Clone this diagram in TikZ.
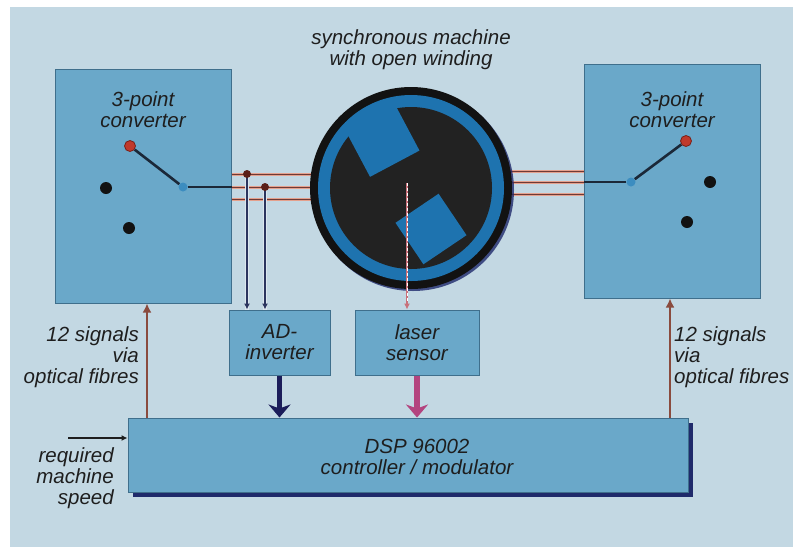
\documentclass[tikz,border=0pt]{standalone}
\usepackage{fontspec}
\setmainfont{Liberation Sans}
\usetikzlibrary{positioning}
\usetikzlibrary{calc}
\usetikzlibrary{arrows.meta}
\usetikzlibrary{shadows}
\pgfdeclarelayer{wirebg}
\pgfsetlayers{wirebg,main}

\definecolor{bgblue}{HTML}{C3D8E3}
\definecolor{boxfill}{HTML}{6AA8C9}
\definecolor{boxline}{HTML}{3F6F8C}
\definecolor{textgray}{HTML}{1E1E1E}
\definecolor{rotorblue}{HTML}{1E73AF}
\definecolor{machineblack}{HTML}{121212}
\definecolor{machinedark}{HTML}{222222}
\definecolor{shadownavy}{HTML}{1F2A6B}
\definecolor{wirebrown}{HTML}{6E3A36}
\definecolor{wireglow}{HTML}{E4A08C}
\definecolor{navyline}{HTML}{2B355E}
\definecolor{senseglow}{HTML}{DCE6EE}
\definecolor{navyarrow}{HTML}{1B1D5A}
\definecolor{pinkarrow}{HTML}{B3447F}
\definecolor{beampink}{HTML}{C8707A}
\definecolor{fibrebrown}{HTML}{8A4B3E}
\definecolor{switchred}{HTML}{C0392B}
\definecolor{switchdark}{HTML}{7A2018}
\definecolor{pivotblue}{HTML}{3C8DC0}
\definecolor{armdark}{HTML}{1B2838}
\definecolor{jointred}{HTML}{5A1F18}

\tikzset{
	box/.style={draw=boxline, line width=1pt, fill=boxfill, align=center, inner sep=0pt, text=textgray},
	txt/.style={inner sep=0pt, text=textgray},
	contact/.style={circle, fill=machineblack, inner sep=0pt, minimum size=12pt},
	switchtip/.style={circle, fill=switchred, draw=switchdark, line width=.8pt, inner sep=0pt, minimum size=11pt},
	pivot/.style={circle, fill=pivotblue, inner sep=0pt, minimum size=9pt},
	arm/.style={draw=armdark, line width=2.6pt},
	wire/.style={draw=wirebrown, line width=1pt, preaction={draw=wireglow, line width=3pt}},
	sense/.style={draw=navyline, line width=1.6pt, preaction={draw=senseglow, line width=4pt, -}, -{Latex[length=6pt,width=6pt]}},
	beam/.style={draw=beampink, line width=1.6pt, -{Latex[length=6pt,width=6pt]}, postaction={draw=white, line width=1pt, dash pattern=on 3pt off 2pt, shorten >=7pt, -}},
	fibre/.style={draw=fibrebrown, line width=2.6pt, -{Latex[length=9pt,width=9pt]}},
	bigarrow/.style={line width=5.5pt, -{Stealth[length=13pt,width=22pt,inset=4pt]}},
}

\begin{document}
\begin{tikzpicture}[x=1pt, y=-1pt, font=\itshape\fontsize{20.5}{21}\selectfont]
	\useasboundingbox (0,0) rectangle (797,547);

	% Converters
	\node [box, minimum width=176pt, minimum height=234pt] at (143,186) (convL) {};
	\node [box, minimum width=176pt, minimum height=234pt] at (672,181) (convR) {};
	\node [txt, align=center, below=23pt of convL.north] (convLtext) {3-point\\converter};
	\node [txt, align=center, below=28pt of convR.north] (convRtext) {3-point\\converter};

	% Switches
	\node [contact] at (106,188) (dotL1) {};
	\node [contact] at (129,228) (dotL2) {};
	\node [switchtip] at (130,146) (armL) {};
	\node [pivot] at (183,187) (pivL) {};
	\draw [arm] (armL) -- (pivL);
	\draw [arm] (pivL) -- (convL.east |- pivL);
	\node [contact] at (710,182) (dotR1) {};
	\node [contact] at (687,222) (dotR2) {};
	\node [switchtip] at (686,141) (armR) {};
	\node [pivot] at (631,182) (pivR) {};
	\draw [arm] (armR) -- (pivR);
	\draw [arm] (pivR) -- (convR.west |- pivR);

	% Machine
	\node [circle, minimum size=202pt, inner sep=0pt, fill=machineblack, drop shadow={shadow xshift=2pt, shadow yshift=-2pt, fill=shadownavy, opacity=.8}] at (411,188) (machine) {};
	\fill [rotorblue] (machine.center) circle (93pt);
	\fill [machinedark] (machine.center) circle (81pt);
	\begin{scope}
		\clip (machine.center) circle (92pt);
		\fill [rotorblue, shift={(383.5,142.5)}, rotate=28] (-28,-40) rectangle (28,24);
		\fill [rotorblue, shift={(431,229)}, rotate=34] (-26,-25) rectangle (26,25);
	\end{scope}
	\node [txt, align=center, above=17pt of machine] (title) {synchronous machine\\with open winding};

	% Measurement and control
	\node [box, minimum width=101pt, minimum height=65pt] at (279.5,342.5) (adinv) {AD-\\inverter};
	\node [box, minimum width=124pt, minimum height=65pt] at (417,342.5) (laser) {laser\\sensor};
	\node [box, minimum width=560pt, minimum height=74pt, drop shadow={shadow xshift=5pt, shadow yshift=-5pt, fill=shadownavy, opacity=1}] at (408,455) (dsp) {};
	\node [txt, align=center] at ($(dsp.center)+(9,2)$) (dsptext) {DSP 96002\\controller / modulator};

	% Labels
	\node [txt, align=right, anchor=north east] at (139,326.5) (fibLtext) {12 signals\\via\\optical fibres};
	\node [txt, align=left, anchor=north west] at (674,326.5) (fibRtext) {12 signals\\via\\optical fibres};
	\node [txt, align=right, anchor=north east] at (114,447) (speedtext) {required\\machine\\speed};

	% Leads to the machine
	\begin{pgfonlayer}{wirebg}
		\fill [bgblue] (10,7) rectangle (793,547);
		\foreach \dy in {-13,0,12}
			\draw [wire] ($(convL.east |- pivL)+(0,\dy)$) -- ($(machine.center |- pivL)+(0,\dy)$);
		\foreach \dy in {-11,0,12}
			\draw [wire] ($(convR.west |- pivR)+(0,\dy)$) -- ($(machine.center |- pivR)+(0,\dy)$);
	\end{pgfonlayer}

	% Connections
	\coordinate (jA) at (247,174);
	\coordinate (jB) at (265,187);
	\draw [sense] (jA) -- (jA |- adinv.north);
	\draw [sense] (jB) -- (jB |- adinv.north);
	\fill [jointred] (jA) circle (4pt);
	\fill [jointred] (jB) circle (4pt);
	\coordinate (beamstart) at (407,183);
	\draw [beam] (beamstart) -- (beamstart |- laser.north);
	\draw [bigarrow, navyarrow] (adinv.south) -- (adinv.south |- dsp.north);
	\draw [bigarrow, pinkarrow] (laser.south) -- (laser.south |- dsp.north);
	\draw [fibre] ($(convL.south |- dsp.north)+(4,0)$) -- ($(convL.south)+(4,0)$);
	\draw [fibre] ($(convR.south |- dsp.north)+(-2,0)$) -- ($(convR.south)+(-2,0)$);
	\coordinate (speedin) at (68,438);
	\draw [textgray, line width=1.2pt, -{Latex[length=6pt,width=6pt]}] (speedin) -- (speedin -| dsp.west);

\end{tikzpicture}
\end{document}
